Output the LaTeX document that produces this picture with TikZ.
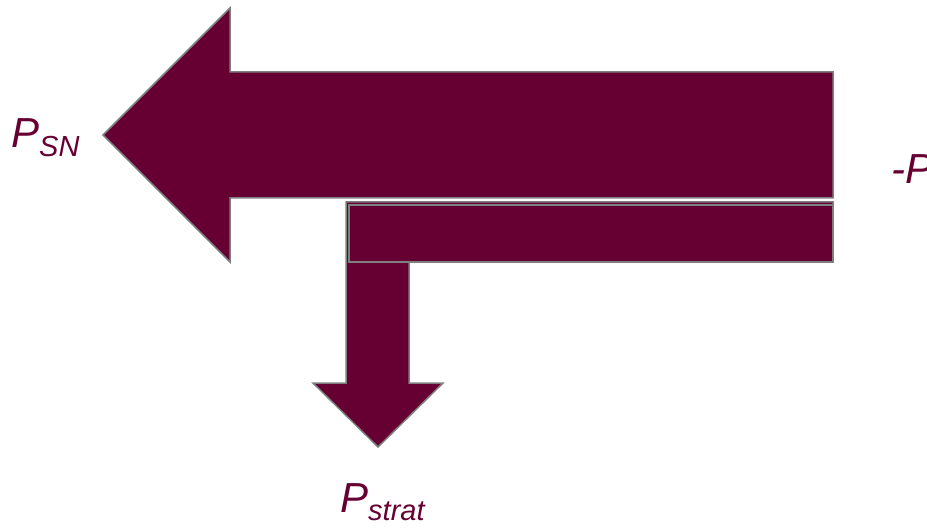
\documentclass[tikz,border=0pt]{standalone}
\usepackage{fontspec}
\setmainfont{Liberation Sans}
\usetikzlibrary{positioning}
\usepackage{xcolor}
\definecolor{flowfill}{HTML}{660033}
\definecolor{flowedge}{HTML}{7F7F7F}
\definecolor{flowtext}{HTML}{660033}
\newcommand{\flowlbl}[2]{\textit{#1}\raisebox{-0.21em}{\fontsize{29}{32}\selectfont\itshape #2}}

\begin{document}
\begin{tikzpicture}[x=1pt, y=-1pt,
    flowarrow/.style={fill=flowfill, draw=flowedge, line width=1.5pt, line join=miter},
    flowlabel/.style={text=flowtext, font=\fontsize{42}{46}\selectfont\itshape,
          inner sep=0pt, anchor=base west}]
    \clip (0,0) rectangle (927,532);
    % big arrow to the left
    \draw[flowarrow] (833,72) -- (230,72) -- (230,8) -- (103,135) -- (230,262)
        -- (230,198) -- (833,198) -- cycle;
    % branch bent downwards
    \draw[flowarrow] (833,202) -- (346,202) -- (346,383) -- (313,383) -- (378,447)
        -- (443,383) -- (409,383) -- (409,262) -- (833,262) -- cycle;
    \draw[flowarrow] (349,205) rectangle (833,262);
    \node[flowlabel] (psn) at (11,148) {\flowlbl{P}{SN}};
    \node[flowlabel] (pstrat) at (340,512) {\flowlbl{P}{strat}};
    \node[flowlabel] (pin) at (891,183) {-P};
\end{tikzpicture}
\end{document}
